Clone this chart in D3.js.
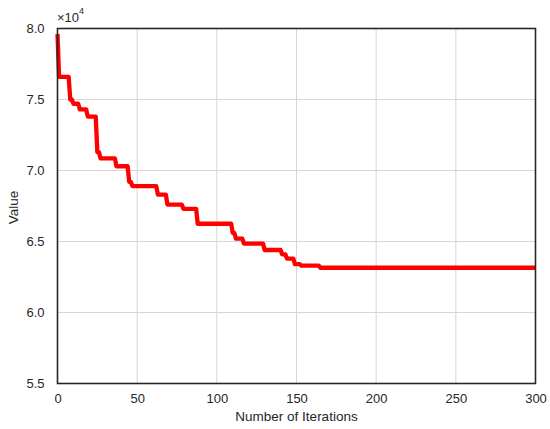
<!DOCTYPE html>
<html>
<head>
<meta charset="utf-8">
<script src="https://cdn.jsdelivr.net/npm/d3@7"></script>
<style>
  html, body { margin: 0; padding: 0; background: #fff; }
  svg { display: block; }
  text { font-family: "Liberation Sans", Arial, sans-serif; fill: #262626; }
</style>
</head>
<body>
<svg id="chart" width="550" height="429"></svg>
<script>
// Step breakpoints of the convergence curve: iteration where the value changes, and new value
const stepIterations = [0, 1, 8, 10, 14, 19, 25, 27, 37, 45, 47, 63, 69, 79, 88, 110, 112, 117, 130, 141, 144, 149, 153, 165];
const stepValues = [79600, 76600, 75000, 74700, 74300, 73800, 71300, 70850, 70300, 69200, 68900, 68300, 67600, 67300, 66250, 65600, 65200, 64850, 64400, 64100, 63800, 63400, 63300, 63150];
const maxIteration = 300;
const xTicks = [0, 50, 100, 150, 200, 250, 300];
const yTicks = [55000, 60000, 65000, 70000, 75000, 80000];

// expand step function to per-iteration series
const series = [];
let k = 0;
for (let it = 0; it <= maxIteration; it++) {
  while (k + 1 < stepIterations.length && stepIterations[k + 1] <= it) k++;
  series.push({ it: it, v: stepValues[k] });
}

const svg = d3.select("#chart");
const L = 57.5, R = 535.5, T = 28.5, B = 383.5;

const x = d3.scaleLinear().domain([0, 300]).range([L, R]);
const y = d3.scaleLinear().domain([55000, 80000]).range([B, T]);

// grid
const grid = svg.append("g");
grid.selectAll("line.vx").data(xTicks).enter().append("line")
  .attr("x1", d => x(d)).attr("x2", d => x(d)).attr("y1", T).attr("y2", B)
  .attr("stroke", "#d6d6d6").attr("stroke-width", 1);
grid.selectAll("line.hy").data(yTicks).enter().append("line")
  .attr("y1", d => y(d)).attr("y2", d => y(d)).attr("x1", L).attr("x2", R)
  .attr("stroke", "#d6d6d6").attr("stroke-width", 1);

// line
const line = d3.line().x(d => x(d.it)).y(d => y(d.v)).curve(d3.curveLinear);
svg.append("path").datum(series)
  .attr("d", line)
  .attr("fill", "none")
  .attr("stroke", "#ff0000")
  .attr("stroke-width", 4.3)
  .attr("stroke-linejoin", "round")
  .attr("stroke-linecap", "butt");

// axes (tick labels only)
const xAxis = d3.axisBottom(x).tickValues(xTicks).tickSize(0).tickPadding(10).tickFormat(d3.format("d"));
const gx = svg.append("g").attr("transform", `translate(0,${B})`).call(xAxis);
gx.select(".domain").remove();
gx.selectAll("text").style("font-size", "13px").attr("fill", "#262626")
  .style("font-family", "'Liberation Sans', Arial, sans-serif");

const yAxis = d3.axisLeft(y).tickValues(yTicks).tickSize(0).tickPadding(13)
  .tickFormat(d => (d / 1e4).toFixed(1));
const gy = svg.append("g").attr("transform", `translate(${L},0)`).call(yAxis);
gy.select(".domain").remove();
gy.selectAll("text").style("font-size", "13px").attr("fill", "#262626")
  .style("font-family", "'Liberation Sans', Arial, sans-serif");

// frame
svg.append("rect").attr("x", L).attr("y", T).attr("width", R - L).attr("height", B - T)
  .attr("fill", "none").attr("stroke", "#262626").attr("stroke-width", 1.6);

// multiplier
const mult = svg.append("text").attr("x", 57).attr("y", 22).style("font-size", "13px");
mult.append("tspan").text("×10");
mult.append("tspan").attr("dy", -8.5).style("font-size", "9px").text("4");

// axis labels
svg.append("text").attr("x", (L + R) / 2).attr("y", 421)
  .attr("text-anchor", "middle").style("font-size", "13.5px").text("Number of Iterations");
svg.append("text").attr("transform", "translate(17.5,207.5) rotate(-90)")
  .attr("text-anchor", "middle").style("font-size", "13.5px").text("Value");
</script>
</body>
</html>
